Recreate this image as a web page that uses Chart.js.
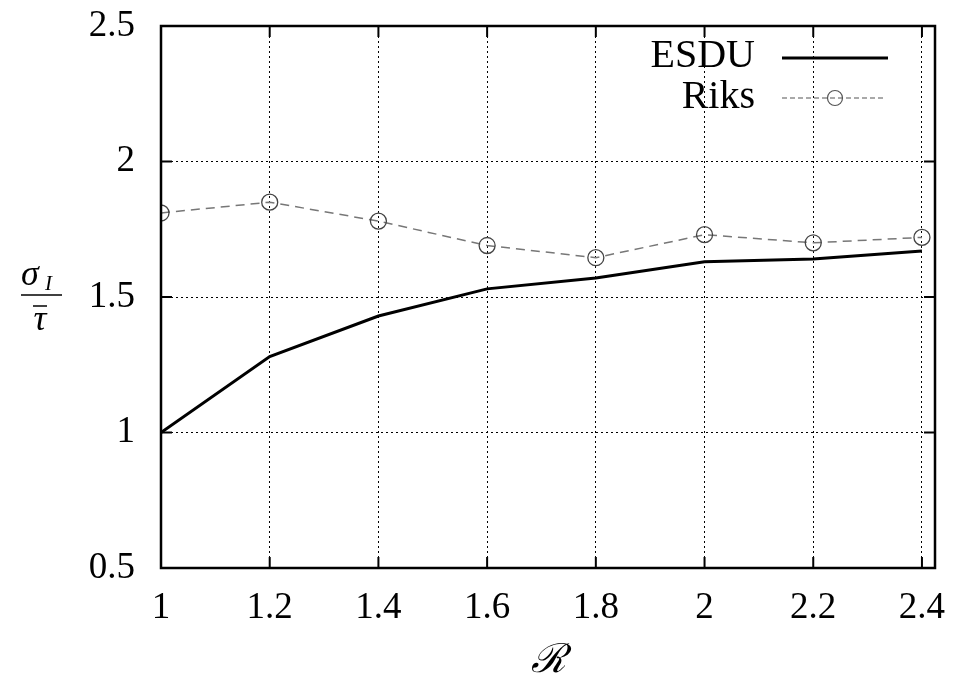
<!DOCTYPE html>
<html lang="en">
<head>
    <meta charset="UTF-8">
    <title>ESDU vs Riks</title>
    <script src="https://cdn.jsdelivr.net/npm/chart.js"></script>
    <style>
        body {
            margin: 0;
            background: white;
        }
        #wrap {
            width: 956px;
            height: 681px;
        }
    </style>
</head>
<body>
    <div id="wrap"><canvas id="plot"></canvas></div>

    <script>
        let ratios = [1, 1.2, 1.4, 1.6, 1.8, 2, 2.2, 2.4];
        let esdu = [1.0, 1.28, 1.43, 1.53, 1.57, 1.63, 1.64, 1.67];
        let riks = [1.81, 1.85, 1.78, 1.69, 1.645, 1.73, 1.70, 1.72];
        let xTicks = [1, 1.2, 1.4, 1.6, 1.8, 2, 2.2, 2.4];
        let yTicks = [0.5, 1, 1.5, 2, 2.5];

        const serif = '"Liberation Serif", "DejaVu Serif", serif';

        // inward tick marks on all four sides, frame, legend and axis titles
        const decorations = {
            id: 'decorations',
            afterDatasetsDraw(chart) {
                const ctx = chart.ctx;
                const a = chart.chartArea;
                const xs = chart.scales.x, ys = chart.scales.y;
                ctx.save();
                ctx.strokeStyle = 'black';
                ctx.lineWidth = 2;
                ctx.setLineDash([]);
                ctx.beginPath();
                xTicks.forEach(v => {
                    let px = xs.getPixelForValue(v);
                    ctx.moveTo(px, a.bottom); ctx.lineTo(px, a.bottom - 11);
                    ctx.moveTo(px, a.top); ctx.lineTo(px, a.top + 11);
                });
                yTicks.forEach(v => {
                    let py = ys.getPixelForValue(v);
                    ctx.moveTo(a.left, py); ctx.lineTo(a.left + 11, py);
                    ctx.moveTo(a.right, py); ctx.lineTo(a.right - 11, py);
                });
                ctx.stroke();
                ctx.lineWidth = 2.5;
                ctx.strokeRect(a.left, a.top, a.right - a.left, a.bottom - a.top);

                // legend
                ctx.fillStyle = 'black';
                ctx.font = '40px ' + serif;
                ctx.textAlign = 'right';
                ctx.textBaseline = 'alphabetic';
                ctx.fillText('ESDU', 755, 67);
                ctx.fillText('Riks', 755, 108);
                ctx.lineWidth = 3;
                ctx.beginPath();
                ctx.moveTo(782, 58); ctx.lineTo(888, 58);
                ctx.stroke();
                ctx.strokeStyle = '#555';
                ctx.lineWidth = 1.2;
                ctx.setLineDash([5, 3]);
                ctx.beginPath();
                ctx.moveTo(782, 98); ctx.lineTo(886, 98);
                ctx.stroke();
                ctx.setLineDash([]);
                ctx.beginPath();
                ctx.arc(835, 98, 7.5, 0, Math.PI * 2);
                ctx.stroke();

                // x title
                ctx.fillStyle = 'black';
                ctx.textAlign = 'center';
                ctx.font = 'italic 40px ' + serif;
                ctx.fillText('\u211B', 548, 672);

                // y title as a fraction
                ctx.font = 'italic 36px ' + serif;
                ctx.textAlign = 'left';
                ctx.fillText('\u03C3', 21, 285);
                ctx.font = 'italic 21px ' + serif;
                ctx.fillText('I', 45, 290);
                ctx.lineWidth = 1.5;
                ctx.strokeStyle = 'black';
                ctx.beginPath();
                ctx.moveTo(21, 295); ctx.lineTo(62, 295);
                ctx.stroke();
                ctx.font = 'italic 36px ' + serif;
                ctx.textAlign = 'center';
                ctx.fillText('\u03C4', 40, 330);
                ctx.beginPath();
                ctx.moveTo(33, 306); ctx.lineTo(47, 306);
                ctx.stroke();
                ctx.restore();
            }
        };

        const ctx = document.getElementById('plot').getContext('2d');
        new Chart(ctx, {
            type: 'line',
            data: {
                datasets: [
                    {
                        label: 'ESDU',
                        data: ratios.map((r, i) => ({ x: r, y: esdu[i] })),
                        borderColor: 'black',
                        borderWidth: 3,
                        pointRadius: 0,
                        tension: 0,
                        fill: false
                    },
                    {
                        label: 'Riks',
                        data: ratios.map((r, i) => ({ x: r, y: riks[i] })),
                        borderColor: '#777',
                        borderWidth: 1.5,
                        borderDash: [9, 6],
                        pointStyle: 'circle',
                        pointRadius: 8,
                        pointBorderWidth: 1.3,
                        pointBorderColor: '#444',
                        pointBackgroundColor: 'rgba(0,0,0,0)',
                        tension: 0,
                        fill: false
                    }
                ]
            },
            options: {
                responsive: true,
                maintainAspectRatio: false,
                animation: false,
                layout: { padding: { left: 0, top: 26, right: 21, bottom: 0 } },
                plugins: {
                    legend: { display: false },
                    tooltip: { enabled: false }
                },
                scales: {
                    x: {
                        type: 'linear',
                        min: 1,
                        max: 2.424,
                        afterBuildTicks: s => { s.ticks = xTicks.map(v => ({ value: v })); },
                        afterFit: s => {
                            s.height = 113;
                            s.paddingLeft = 0;
                            s.paddingRight = 0;
                        },
                        border: { display: false, dash: [2, 3] },
                        grid: {
                            color: 'black',
                            lineWidth: 1,
                            drawTicks: false
                        },
                        ticks: {
                            padding: 18,
                            maxRotation: 0,
                            color: 'black',
                            font: { family: serif, size: 37 },
                            callback: v => String(v)
                        }
                    },
                    y: {
                        type: 'linear',
                        min: 0.5,
                        max: 2.5,
                        afterBuildTicks: s => { s.ticks = yTicks.map(v => ({ value: v })); },
                        afterFit: s => {
                            s.width = 161;
                            s.paddingTop = 0;
                            s.paddingBottom = 0;
                        },
                        border: { display: false, dash: [2, 3] },
                        grid: {
                            color: 'black',
                            lineWidth: 1,
                            drawTicks: false
                        },
                        ticks: {
                            padding: 26,
                            color: 'black',
                            font: { family: serif, size: 37 },
                            callback: v => String(v)
                        }
                    }
                }
            },
            plugins: [decorations]
        });
    </script>
</body>
</html>
